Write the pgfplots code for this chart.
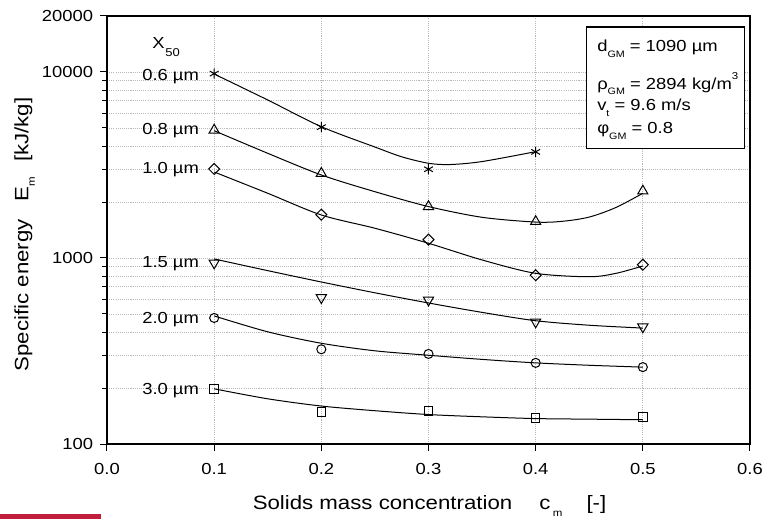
\documentclass[border=0pt]{standalone}
\usepackage{fontspec}
\setmainfont{Liberation Sans}[FakeStretch=1.15]
\usepackage{pgfplots}
\pgfplotsset{compat=1.18}
\usetikzlibrary{plotmarks}
\definecolor{gridc}{RGB}{185,185,185}
\definecolor{barred}{RGB}{192,30,60}
\newcommand{\lsub}[3]{\raisebox{-#2}{\fontsize{#1}{#1}\selectfont #3}}

\pgfplotstableread{
x y
0.1 9800
0.2 5050
0.3 3000
0.4 3720
}\mA
\pgfplotstableread{
x y
0.1 4870
0.2 2850
0.3 1890
0.4 1570
0.5 2290
}\mB
\pgfplotstableread{
x y
0.1 3010
0.2 1710
0.3 1255
0.4 808
0.5 920
}\mC
\pgfplotstableread{
x y
0.1 940
0.2 612
0.3 594
0.4 453
0.5 426
}\mD
\pgfplotstableread{
x y
0.1 476
0.2 323
0.3 305
0.4 273
0.5 259
}\mE
\pgfplotstableread{
x y
0.1 198
0.2 149
0.3 150
0.4 138
0.5 140
}\mF

\begin{document}
\fontsize{12pt}{14pt}\selectfont
\begin{tikzpicture}[font=\fontsize{12pt}{14pt}\selectfont]
\useasboundingbox (-80.25pt,-56.25pt) rectangle (495.75pt,333pt);
\fill[barred] (-80.25pt,-56.25pt) rectangle (-4.75pt,-52.5pt);
\begin{axis}[
  at={(0pt,0pt)}, anchor=south west,
  width=482.25pt, height=321pt, scale only axis,
  xmin=0, xmax=0.6, ymin=100, ymax=20000,
  ymode=log,
  xtick={0,0.1,0.2,0.3,0.4,0.5,0.6},
  xticklabels={0.0,0.1,0.2,0.3,0.4,0.5,0.6},
  ytick={100,1000,10000},
  yticklabels={100,1000,10000},
  extra y ticks={20000},
  extra y tick labels={20000},
  extra y tick style={grid=none},
  minor ytick={200,300,400,500,600,700,800,900,2000,3000,4000,5000,6000,7000,8000,9000},
  xtick pos=left, ytick pos=left,
  tick align=outside,
  major tick length=5pt, minor tick length=3.5pt,
  every tick/.style={black, line width=0.75pt},
  axis line style={line width=1.1pt},
  grid=both,
  major grid style={gridc, line width=0.6pt, dash pattern=on 0.8pt off 0.8pt},
  minor grid style={gridc, line width=0.6pt, dash pattern=on 0.8pt off 0.8pt},
  yticklabel style={xshift=-1.2pt},
  xticklabel style={yshift=-5.5pt},
  xlabel={\fontsize{14.5pt}{16pt}\selectfont Solids mass concentration\hspace{1.4em}c\hspace{0.12em}\lsub{7.5pt}{5pt}{m}\hspace{1.25em}[-]},
  ylabel={\fontsize{14.5pt}{16pt}\selectfont Specific energy\hspace{0.9em}E\hspace{0.05em}\lsub{7.5pt}{5pt}{m}\hspace{0.75em}[kJ/kg]},
  xlabel style={at={(axis description cs:0.5016,-0.154)}, anchor=base},
  ylabel style={at={(axis description cs:-0.1224,0.4895)}, anchor=base},
  clip=false,
]
% fitted curves
\addplot[black, line width=0.75pt, smooth, tension=0.5] coordinates {(0.1,9750)(0.15,7070)(0.2,5080)(0.25,3950)(0.275,3500)(0.3,3230)(0.32,3180)(0.35,3300)(0.4,3730)};
\addplot[black, line width=0.75pt, smooth, tension=0.5] coordinates {(0.1,4835)(0.15,3655)(0.2,2795)(0.25,2272)(0.3,1890)(0.35,1655)(0.4,1560)(0.425,1575)(0.45,1660)(0.475,1870)(0.5,2228)};
\addplot[black, line width=0.75pt, smooth, tension=0.5] coordinates {(0.1,2900)(0.15,2228)(0.2,1703)(0.25,1445)(0.3,1200)(0.35,976)(0.4,827)(0.45,793)(0.475,827)(0.5,906)};
\addplot[black, line width=0.75pt, smooth, tension=0.5] coordinates {(0.1,988)(0.15,855)(0.2,743)(0.25,650)(0.3,573)(0.35,510)(0.4,460)(0.45,435)(0.5,420)};
\addplot[black, line width=0.75pt, smooth, tension=0.5] coordinates {(0.1,488)(0.15,401)(0.2,348)(0.25,317)(0.3,300)(0.35,285)(0.4,273)(0.45,265)(0.5,259)};
\addplot[black, line width=0.75pt, smooth, tension=0.5] coordinates {(0.1,198)(0.15,175)(0.2,160)(0.25,151)(0.3,144)(0.35,140)(0.4,137)(0.45,136)(0.5,135)};
% measured points
\addplot[only marks, mark=asterisk, mark size=3.8pt, mark options={black, line width=0.75pt}] table {\mA};
\addplot[only marks, mark=triangle, mark size=4.4pt, mark options={black, fill=white, line width=0.75pt}] table {\mB};
\addplot[only marks, mark=square, mark size=2.9pt, mark options={black, fill=white, rotate=45, line width=0.75pt}] table {\mC};
\addplot[only marks, mark=triangle, mark size=4.4pt, mark options={black, fill=white, rotate=180, line width=0.75pt}] table {\mD};
\addplot[only marks, mark=o, mark size=3.4pt, mark options={black, fill=white, line width=0.75pt}] table {\mE};
\addplot[only marks, mark=square, mark size=3.2pt, mark options={black, fill=white, line width=0.75pt}] table {\mF};
% series labels
\node[anchor=base east, inner sep=0pt, xshift=-11.25pt, yshift=-4.3pt] at (axis cs:0.1,9700) {0.6 µm};
\node[anchor=base east, inner sep=0pt, xshift=-11.25pt, yshift=-4.3pt] at (axis cs:0.1,4950) {0.8 µm};
\node[anchor=base east, inner sep=0pt, xshift=-11.25pt, yshift=-4.3pt] at (axis cs:0.1,3050) {1.0 µm};
\node[anchor=base east, inner sep=0pt, xshift=-11.25pt, yshift=-4.3pt] at (axis cs:0.1,955) {1.5 µm};
\node[anchor=base east, inner sep=0pt, xshift=-11.25pt, yshift=-4.3pt] at (axis cs:0.1,477) {2.0 µm};
\node[anchor=base east, inner sep=0pt, xshift=-11.25pt, yshift=-4.3pt] at (axis cs:0.1,198) {3.0 µm};
\end{axis}
% x50 header
\node[anchor=base west, inner sep=0pt] at (33.75pt,296.8pt) {X\hspace{0.05em}\lsub{8.5pt}{6pt}{50}};
% parameter box
\draw[line width=0.75pt, fill=white] (359.25pt,222pt) rectangle (477.75pt,312.75pt);
\node[anchor=base west, inner sep=0pt] at (367.5pt,294.2pt) {d\lsub{7pt}{4.5pt}{GM} = 1090 µm};
\node[anchor=base west, inner sep=0pt] at (367.5pt,266.25pt) {ρ\lsub{7pt}{4.5pt}{GM} = 2894 kg/m\raisebox{7pt}{\fontsize{7.5pt}{7.5pt}\selectfont 3}};
\node[anchor=base west, inner sep=0pt] at (367.5pt,250.5pt) {v\lsub{7pt}{4.5pt}{t} = 9.6 m/s};
\node[anchor=base west, inner sep=0pt] at (367.5pt,233pt) {φ\lsub{7pt}{4.5pt}{GM} = 0.8};
\end{tikzpicture}
\end{document}
